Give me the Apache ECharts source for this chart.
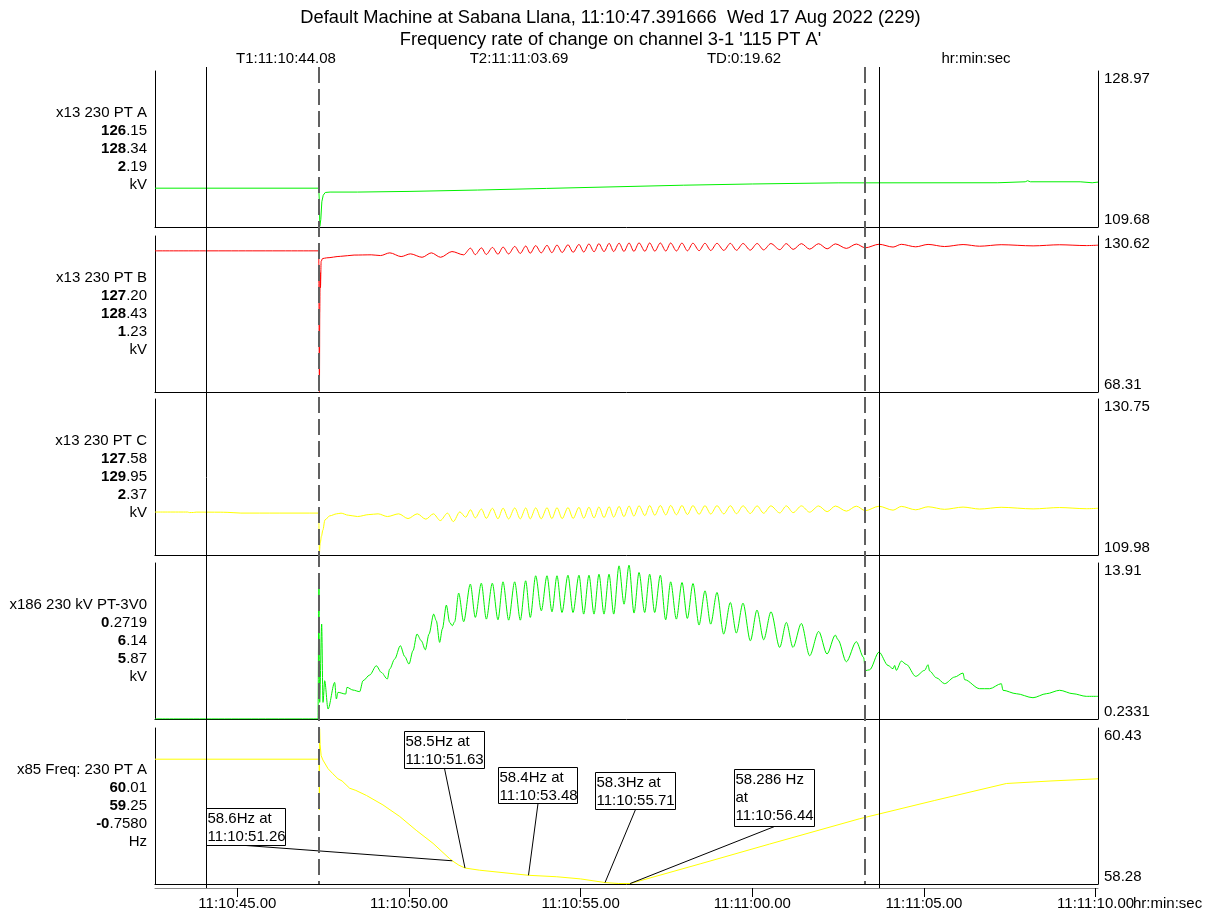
<!DOCTYPE html>
<html><head><meta charset="utf-8">
<script src="https://cdn.jsdelivr.net/npm/echarts@6/dist/echarts.min.js"></script>
<style>html,body{margin:0;padding:0;background:#fff}#c{width:1221px;height:915px}</style>
</head><body><div id="c"></div>
<script>
// ---------- DATA (time in seconds after 11:10:00) ----------
const xMin = 42.6, xMax = 70.07;
const tickVals = [45, 50, 55, 60, 65, 70];
const tickLabels = ['11:10:45.00','11:10:50.00','11:10:55.00','11:11:00.00','11:11:05.00','11:11:10.00'];

const chanNames = ['x13 230 PT A','x13 230 PT B','x13 230 PT C','x186 230 kV PT-3V0','x85 Freq: 230 PT A'];
const valT1 = ['126.15','127.20','127.58','0.2719','60.01'];
const valT2 = ['128.34','128.43','129.95','6.14','59.25'];
const valDiff = ['2.19','1.23','2.37','5.87','-0.7580'];
const units = ['kV','kV','kV','kV','Hz'];
const yMins = [109.68, 68.31, 109.98, 0.2331, 58.28];
const yMaxs = [128.97, 130.62, 130.75, 13.91, 60.43];
const yMinLabels = ['109.68','68.31','109.98','0.2331','58.28'];
const yMaxLabels = ['128.97','130.62','130.75','13.91','60.43'];

const titleLines = ["Default Machine at Sabana Llana, 11:10:47.391666  Wed 17 Aug 2022 (229)", "Frequency rate of change on channel 3-1 '115 PT A'"];
const headerTexts = ['T1:11:10:44.08','T2:11:11:03.69','TD:0:19.62','hr:min:sec'];
const solidCursors = [44.08, 63.69];
const dashedCursors = [47.39, 63.27];

const ptA = [[42.6,114.48],[47.37,114.48],[47.38,114.45],[47.39,112.6],[47.40,109.75],[47.43,110.6],[47.46,112.8],[47.5,113.6],[47.56,113.95],[47.7,114.0],[48.5,114.0],[50.0,114.08],[52.0,114.25],[54.0,114.45],[56.0,114.65],[58.0,114.85],[60.0,115.0],[62.5,115.14],[67.15,115.15],[67.2,115.27],[67.95,115.27],[68.02,115.4],[68.1,115.27],[69.55,115.27],[69.6,115.15],[69.9,115.15],[69.95,115.23],[70.07,115.23]];

const ptB = [[42.6,124.69],[47.37,124.69],[47.38,124.69],[47.39,68.5],[47.40,100.0],[47.41,116.0],[47.42,110.0],[47.44,120.5],[47.48,121.6],[47.6,121.9],[48.0,122.5],[48.4,123.0],[48.9,123.1],
[49.17,122.81],[49.44,123.89],[49.77,122.40],[50.04,123.49],[50.38,122.12],[50.65,123.89],[50.92,122.12],[51.25,124.41],
[51.59,123.10],[51.79,125.75],[51.93,123.18],[52.11,125.88],[52.25,123.25],[52.43,126.05],[52.59,123.35],[52.74,126.2],[52.90,123.45],[53.08,126.45],[53.24,123.65],[53.40,126.62],[53.53,123.73],[53.69,126.78],[53.85,123.87],[54.02,126.9],[54.16,123.95],[54.31,127.0],[54.46,124.03],[54.63,127.12],[54.78,124.1],[54.95,127.25],[55.09,124.2],[55.24,127.45],[55.39,124.3],[55.53,127.57],[55.68,124.38],[55.83,127.69],[55.96,124.41],[56.12,127.76],[56.26,124.44],[56.41,127.83],[56.55,124.47],[56.70,127.88],[56.87,124.52],[57.01,127.85],[57.16,124.55],[57.32,127.84],[57.48,124.6],[57.62,127.83],[57.79,124.63],[57.95,127.8],[58.11,124.7],[58.27,127.75],[58.45,124.75],[58.62,127.72],[58.79,124.82],[58.97,127.7],[59.17,124.86],[59.36,127.68],[59.54,124.92],[59.73,127.63],[59.94,124.97],[60.14,127.63],[60.33,125.07],[60.54,127.6],[60.80,125.16],[60.99,127.58],[61.19,125.26],[61.43,127.57],[61.67,125.37],[61.93,127.54],[62.18,125.5],[62.42,127.47],[62.74,125.67],[63.03,127.4],[63.29,125.9],[63.69,127.32],[64.10,126.2],[64.34,127.3],[64.76,126.3],[65.12,127.26],[65.60,126.41],[66.14,127.2],[66.62,126.54],[67.25,127.14],[68.18,126.68],[68.95,127.12],[69.73,126.79],[70.07,126.95]];

const ptC = [[42.6,115.70],[43.55,115.70],[43.6,115.63],[43.72,115.64],[43.8,115.69],[44.5,115.68],[44.7,115.66],[45.1,115.56],[47.37,115.56],[47.38,115.56],[47.39,110.3],[47.41,111.5],[47.45,112.5],[47.49,113.3],[47.55,114.65],[47.69,115.19],[47.89,115.46],[48.02,115.55],[48.23,115.28],[48.5,115.1],[48.83,115.36],[49.1,115.46],[49.37,115.1],[49.7,115.46],[49.97,114.83],[50.24,115.46],[50.49,114.75],[50.71,115.46],[50.91,114.56],[51.12,115.55],[51.29,114.43],[51.48,115.72],[51.65,115.01],
[51.79,116.0],[51.93,114.92],[52.11,116.10],[52.25,114.86],[52.43,116.2],[52.59,114.8],[52.74,116.22],[52.90,114.78],[53.08,116.25],[53.24,114.79],[53.40,116.25],[53.53,114.79],[53.69,116.26],[53.85,114.8],[54.02,116.28],[54.16,114.82],[54.31,116.28],[54.46,114.82],[54.63,116.3],[54.78,114.84],[54.95,116.33],[55.09,114.87],[55.24,116.35],[55.39,114.91],[55.53,116.38],[55.68,114.96],[55.83,116.42],[55.96,115.02],[56.12,116.46],[56.26,115.08],[56.41,116.51],[56.55,115.15],[56.70,116.54],[56.87,115.22],[57.01,116.57],[57.16,115.27],[57.32,116.57],[57.48,115.31],[57.62,116.58],[57.79,115.34],[57.95,116.57],[58.11,115.37],[58.27,116.56],[58.45,115.4],[58.62,116.55],[58.79,115.43],[58.97,116.55],[59.17,115.45],[59.36,116.54],[59.54,115.48],[59.73,116.53],[59.94,115.51],[60.14,116.52],[60.33,115.54],[60.54,116.52],[60.80,115.58],[60.99,116.52],[61.19,115.62],[61.43,116.52],[61.67,115.68],[61.93,116.51],[62.18,115.75],[62.42,116.5],[62.74,115.82],[63.03,116.48],[63.29,115.88],[63.69,116.47],[64.10,115.95],[64.34,116.45],[64.76,116.0],[65.12,116.4],[65.60,116.06],[66.14,116.36],[66.62,116.1],[67.25,116.33],[68.18,116.12],[68.95,116.3],[69.73,116.14],[70.07,116.2]];

const pt3V0 = [[42.6,0.24],[47.35,0.24],[47.36,0.24],[47.378,12.93],[47.388,4.03],[47.397,1.69],[47.455,8.55],[47.494,1.69],[47.543,3.59],[47.64,1.11],[47.834,3.44],[47.883,1.99],[47.931,2.57],[48.155,2.42],[48.193,3.01],[48.368,2.77],[48.562,2.63],[48.66,3.59],[48.854,4.09],[49.048,4.90],[49.193,4.32],[49.368,3.74],[49.436,4.61],[49.582,5.49],[49.747,6.66],[49.873,5.72],[49.999,5.05],[50.116,6.22],[50.232,7.68],[50.358,7.09],[50.475,6.30],[50.582,7.68],[50.718,9.43],[50.795,8.84],[50.892,6.95],[50.97,8.12],[51.087,10.22],[51.184,8.70],[51.261,8.41],[51.329,8.76],[51.446,11.27],[51.591,8.76],[51.786,12.06],[51.931,9.14],[52.106,12.14],[52.252,8.99],[52.426,12.14],[52.591,8.93],[52.737,12.26],[52.902,8.90],[53.077,12.26],[53.242,8.90],[53.397,12.35],[53.533,9.14],[53.689,12.79],[53.854,9.72],[54.019,12.79],[54.164,9.63],[54.31,12.79],[54.455,9.57],[54.63,12.84],[54.776,9.57],[54.951,12.84],[55.087,9.43],[55.242,12.84],[55.388,9.43],[55.533,12.93],[55.679,9.43],[55.826,12.93],[55.962,9.43],[56.117,13.66],[56.263,10.30],[56.408,13.72],[56.554,9.52],[56.70,13.08],[56.865,9.57],[57.01,12.93],[57.156,9.57],[57.321,12.84],[57.476,8.93],[57.622,12.26],[57.787,8.99],[57.952,12.20],[58.107,9.05],[58.272,12.11],[58.447,8.47],[58.622,11.47],[58.787,8.55],[58.971,11.33],[59.166,7.68],[59.36,10.45],[59.535,7.77],[59.729,10.39],[59.943,7.09],[60.136,9.78],[60.331,7.18],[60.544,9.63],[60.797,6.51],[60.991,8.70],[61.185,6.51],[61.428,8.61],[61.67,5.78],[61.933,7.91],[62.176,5.93],[62.418,7.59],[62.496,7.18],[62.738,5.25],[63.03,7.01],[63.243,5.63],[63.292,4.47],[63.418,4.55],[63.69,6.10],[63.953,4.93],[64.098,4.64],[64.147,4.93],[64.195,4.50],[64.341,5.31],[64.487,5.02],[64.759,3.97],[65.021,4.50],[65.118,4.99],[65.166,4.44],[65.361,3.85],[65.603,3.33],[65.894,3.91],[66.137,4.26],[66.186,3.68],[66.623,2.89],[66.914,2.89],[67.254,3.33],[67.302,2.75],[67.69,2.45],[68.176,2.10],[68.564,2.45],[68.953,2.75],[69.341,2.45],[69.729,2.22],[70.07,2.22]];

const freq = [[42.6,60.0],[47.38,60.0],[47.39,59.30],[47.395,60.42],[47.41,60.2],[47.44,60.05],[47.49,59.99],[47.64,59.87],[47.78,59.80],[47.93,59.73],[48.05,59.70],[48.1,59.68],[48.27,59.60],[48.45,59.57],[48.76,59.50],[49.24,59.37],[49.73,59.21],[50.21,59.02],[50.70,58.84],[51.18,58.63],[51.26,58.60],[51.45,58.54],[51.63,58.50],[52.06,58.47],[53.48,58.40],[54.3,58.38],[55.0,58.35],[55.71,58.30],[56.1,58.287],[56.44,58.286],[58.5,58.56],[60.5,58.83],[63.13,59.18],[65.3,59.43],[67.4,59.665],[68.7,59.70],[70.07,59.73]];

const annotTimes = [51.26, 51.63, 53.48, 55.71, 56.44];
const annotFreqs = [58.6, 58.5, 58.4, 58.3, 58.286];
const annotTexts = ['58.6Hz at\n11:10:51.26','58.5Hz at\n11:10:51.63','58.4Hz at\n11:10:53.48','58.3Hz at\n11:10:55.71','58.286 Hz\nat\n11:10:56.44'];

// ---------- LAYOUT / STYLE ----------
const FONT = '"Liberation Sans", Arial, sans-serif';
const gridTops = [71, 236, 399, 563, 728];
const gridH = 156;
const seriesColors = ['#00f000', '#ff0000', '#ffff00', '#00f000', '#ffff00'];
const seriesSmooth = [false, 0.3, 0.3, 0.3, false];
const seriesData = [ptA, ptB, ptC, pt3V0, freq];
// annotation box placement relative to the pointed value: [dx, dy, w, h]
const annotBoxes = [[-246, -53, 79, 37], [-61, -137, 80, 37], [-30, -108, 79, 36], [-10, -111, 80, 37], [104, -115, 80, 57]];
const headerX = [286, 519, 744, 976];

const chart = echarts.init(document.getElementById('c'), null, {renderer: 'canvas'});

const grids = [], xAxes = [], yAxes = [], series = [];
for (let i = 0; i < 5; i++) {
  grids.push({left: 155, right: 123, top: gridTops[i], height: gridH});
  xAxes.push({type: 'value', gridIndex: i, min: xMin, max: xMax, position: 'bottom',
    axisLine: {show: true, onZero: false, lineStyle: {color: '#000', width: 1}},
    axisTick: {show: false}, axisLabel: {show: false}, splitLine: {show: false}});
}
// time axis under the last panel
xAxes.push({type: 'value', gridIndex: 4, min: xMin, max: xMax, position: 'bottom', offset: 4,
  axisLine: {show: true, onZero: false, lineStyle: {color: '#8a8a8a', width: 1}},
  axisTick: {show: true, customValues: tickVals, length: 9, lineStyle: {color: '#000'}},
  axisLabel: {show: true, customValues: tickVals, margin: 8, color: '#000', fontSize: 15, fontFamily: FONT,
    formatter: v => { const k = tickVals.findIndex(t => Math.abs(t - v) < 1e-6); return k >= 0 ? tickLabels[k] : ''; }},
  splitLine: {show: false}});

for (let i = 0; i < 5; i++) {
  yAxes.push({type: 'value', gridIndex: i, position: 'right', min: yMins[i], max: yMaxs[i],
    axisLine: {show: true, lineStyle: {color: '#000', width: 1}},
    axisTick: {show: false}, splitLine: {show: false},
    axisLabel: {show: true, customValues: [yMins[i], yMaxs[i]], margin: 6, color: '#000', fontSize: 15, fontFamily: FONT,
      verticalAlignMinLabel: 'bottom', verticalAlignMaxLabel: 'top',
      formatter: (function (k) { return function (v) { return Math.abs(v - yMins[k]) < 1e-9 ? yMinLabels[k] : yMaxLabels[k]; }; })(i)}});
}
for (let i = 0; i < 5; i++) {
  yAxes.push({type: 'value', gridIndex: i, position: 'left', min: 0, max: 1,
    axisLine: {show: true, lineStyle: {color: '#000', width: 1}},
    axisTick: {show: false}, axisLabel: {show: false}, splitLine: {show: false}});
}
for (let i = 0; i < 5; i++) {
  series.push({type: 'line', xAxisIndex: i, yAxisIndex: i, data: seriesData[i], showSymbol: false, symbol: 'none',
    smooth: seriesSmooth[i], smoothMonotone: 'x',
    lineStyle: {color: seriesColors[i], width: 1}, animation: false, z: 3});
}
series.push({type: 'custom', xAxisIndex: 4, yAxisIndex: 4, clip: false, z: 10, animation: false,
  data: annotTimes.map((t, k) => [t, annotFreqs[k]]),
  renderItem: function (params, api) {
    const k = params.dataIndex;
    const p = api.coord([api.value(0), api.value(1)]);
    const b = annotBoxes[k];
    const bx = Math.round(p[0] + b[0]) + 0.5, by = Math.round(p[1] + b[1]) + 0.5;
    return {type: 'group', children: [
      {type: 'line', shape: {x1: p[0], y1: p[1], x2: bx + b[2] / 2, y2: by + b[3]}, style: {stroke: '#000', lineWidth: 1}},
      {type: 'rect', shape: {x: bx, y: by, width: b[2], height: b[3]}, style: {fill: '#fff', stroke: '#000', lineWidth: 1}},
      {type: 'text', x: bx + 1, y: by + 1, style: {text: annotTexts[k], fill: '#000', font: '15px ' + FONT, lineHeight: 18, align: 'left', verticalAlign: 'top'}}
    ]};
  }});

chart.setOption({
  animation: false,
  backgroundColor: '#fff',
  title: {text: titleLines.join('\n'), left: 'center', top: 7, padding: 0,
    textStyle: {fontSize: 18.3, fontWeight: 'normal', color: '#000', fontFamily: FONT, lineHeight: 22}},
  grid: grids, xAxis: xAxes, yAxis: yAxes, series: series
});

// ---------- overlay text & cursors ----------
function boldSplit(s) {
  const k = s.indexOf('.');
  return '{b|' + s.slice(0, k) + '}{n|' + s.slice(k) + '}';
}
const g = [];
const rich = {n: {fontSize: 15, fontFamily: FONT, color: '#000', lineHeight: 18, align: 'right'},
              b: {fontSize: 15, fontFamily: FONT, color: '#000', lineHeight: 18, fontWeight: 'bold', align: 'right'}};
for (let i = 0; i < 5; i++) {
  const txt = ['{n|' + chanNames[i] + '}', boldSplit(valT1[i]), boldSplit(valT2[i]), boldSplit(valDiff[i]), '{n|' + units[i] + '}'].join('\n');
  g.push({type: 'text', x: 147, y: gridTops[i] + 33, style: {text: txt, rich: rich, align: 'right', verticalAlign: 'top'}});
}
headerTexts.forEach((t, k) => g.push({type: 'text', x: headerX[k], y: 59, style: {text: t, fill: '#000', font: '15px ' + FONT, align: 'center', verticalAlign: 'middle'}}));
g.push({type: 'text', x: 1133, y: 904, style: {text: 'hr:min:sec', fill: '#000', font: '15px ' + FONT, align: 'left', verticalAlign: 'middle'}});

const yTop = gridTops[0] - 4, yBot = gridTops[4] + gridH;
solidCursors.forEach(t => {
  const x = Math.round(chart.convertToPixel({xAxisIndex: 0}, t)) + 0.5;
  g.push({type: 'line', z: 20, shape: {x1: x, y1: yTop, x2: x, y2: yBot + 4}, style: {stroke: '#000', lineWidth: 1}});
});
dashedCursors.forEach(t => {
  const x = Math.round(chart.convertToPixel({xAxisIndex: 0}, t));
  g.push({type: 'line', z: 20, shape: {x1: x, y1: yTop, x2: x, y2: yBot}, style: {stroke: '#606060', lineWidth: 2, lineDash: [16, 6]}});
});
chart.setOption({graphic: g});
</script></body></html>
